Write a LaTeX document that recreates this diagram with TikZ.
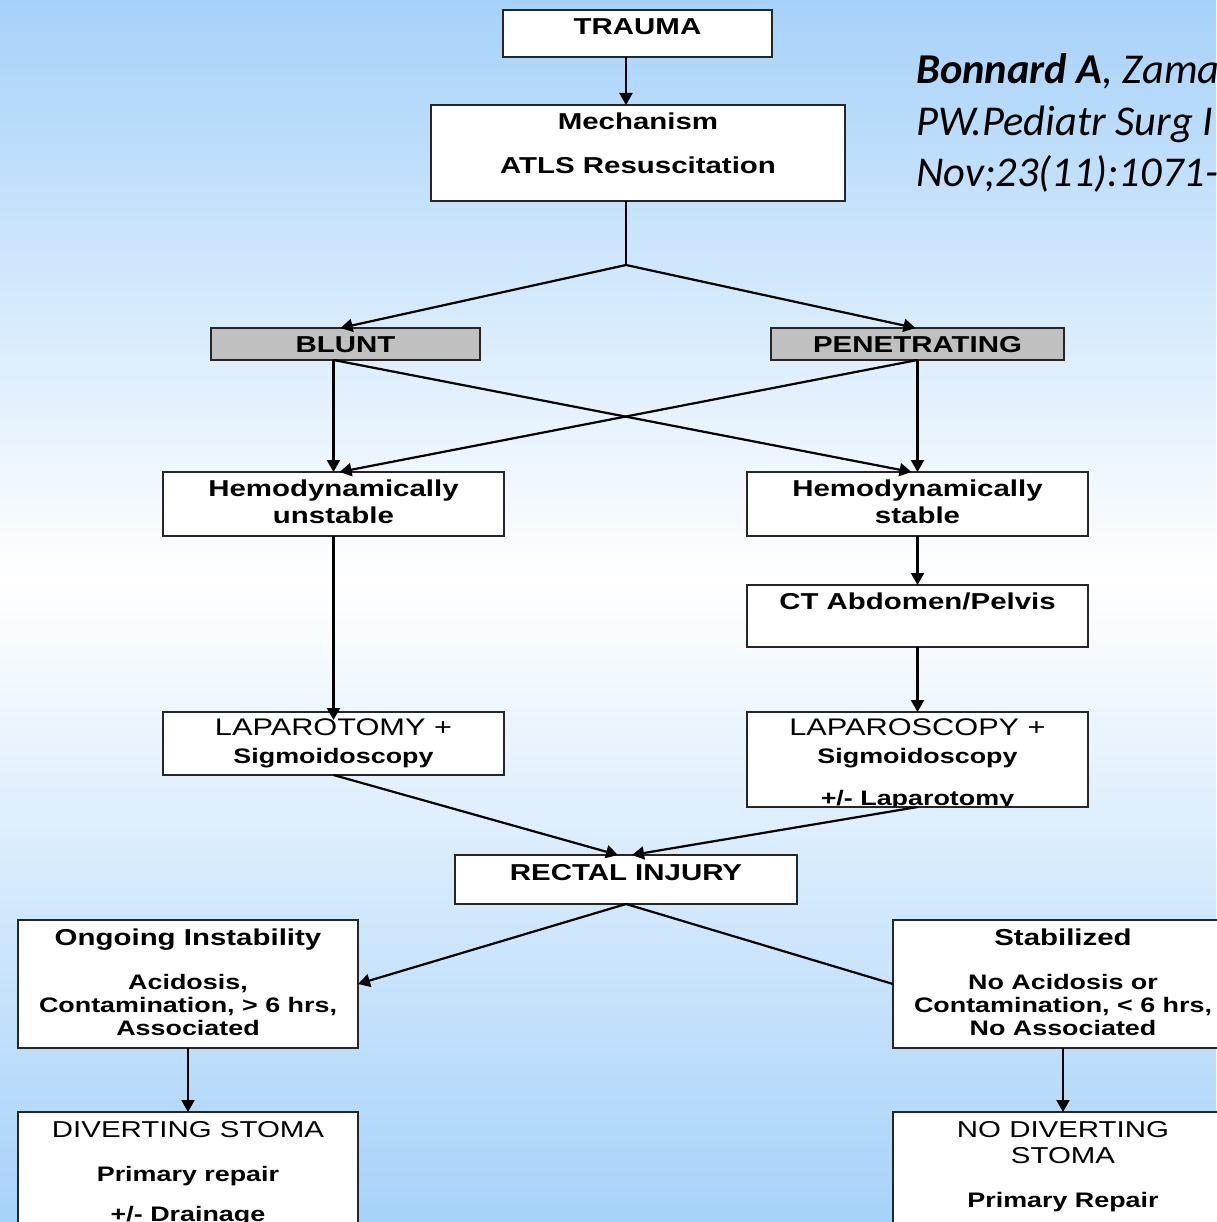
\documentclass[tikz,border=0pt]{standalone}
\usepackage{fontspec}
\setmainfont{Liberation Sans}[FakeStretch=1.28]
\newfontfamily\citefont{Carlito}
\usetikzlibrary{arrows.meta, positioning, calc}
\definecolor{skyblue}{HTML}{A6D2F9}
\definecolor{boxgray}{HTML}{C0C0C0}
\newcommand\detail{\fontsize{21}{23}\selectfont}
\newcommand\capsline{\mdseries\fontsize{24}{23}\selectfont}

\begin{document}
\begin{tikzpicture}[
x=1pt, y=-1pt,
box/.style={draw=black!85, line width=1.8pt, fill=white, inner sep=0pt, outer sep=0pt},
graybox/.style={box, fill=boxgray},
boxline/.style={draw=black!85, line width=1.8pt},
boxtext/.style={anchor=north, align=center, inner sep=0pt, font=\fontsize{23}{23}\selectfont\bfseries},
citetext/.style={anchor=base west, align=left, inner sep=0pt, font=\citefont\fontsize{42.5}{51.5}\selectfont\itshape},
arr/.style={line width=2.2pt, -{Triangle[length=12pt, width=13pt]}},
link/.style={line width=2.2pt}
]

%%%% BACKGROUND

\shade[top color=skyblue, bottom color=white] (0,0) rectangle (1216,580);
\shade[top color=white, bottom color=skyblue] (0,580) rectangle (1216,1222);
\useasboundingbox (0,0) rectangle (1216,1222);

%%%% TOP

\node[box, minimum width=269pt, minimum height=47pt] (trauma) at (637.5,33.5) {};
\path (trauma.north)++(0,8) node[boxtext]{TRAUMA};

\node[box, minimum width=414pt, minimum height=96pt] (mech) at (638,153) {};
\path (mech.north)++(0,8) node[boxtext]{Mechanism\\[21pt]ATLS Resuscitation};

\coordinate (fork) at (626,265);
\draw[arr] (trauma.south -| fork)--(mech.north -| fork);
\draw[link] (mech.south -| fork)--(fork);

%% BLUNT / PENETRATING
\node[graybox, minimum width=269pt, minimum height=32pt] (blunt) at (345.5,344) {};
\path (blunt.north)++(0,8) node[boxtext]{BLUNT};
\node[graybox, minimum width=293pt, minimum height=32pt] (pene) at (917.5,344) {};
\path (pene.north)++(0,8) node[boxtext]{PENETRATING};

\draw[arr] (fork)--([xshift=-5pt]blunt.north);
\draw[arr] (fork)--([xshift=-2pt]pene.north);

%% HEMODYNAMICS
\node[box, minimum width=341pt, minimum height=64pt] (unstable) at (333.5,504) {};
\path (unstable.north)++(0,8) node[boxtext]{Hemodynamically\\[4pt]unstable};
\node[box, minimum width=341pt, minimum height=64pt] (stable) at (917.5,504) {};
\path (stable.north)++(0,8) node[boxtext]{Hemodynamically\\[4pt]stable};

\draw[arr] (blunt.south -| unstable.north)--(unstable.north);
\draw[arr] (blunt.south -| unstable.north)--([xshift=-6pt]stable.north);
\draw[arr] (pene.south -| stable.north)--(stable.north);
\draw[arr] (pene.south -| stable.north)--([xshift=6pt]unstable.north);

%% CT
\node[box, minimum width=341pt, minimum height=62pt] (ct) at (917.5,616) {};
\path (ct.north)++(0,8) node[boxtext]{CT Abdomen/Pelvis};
\draw[arr] (stable.south)--(ct.north);

%% SURGERY
\node[box, minimum width=341pt, minimum height=63pt] (lap) at (333.5,743.5) {};
\path (lap.north)++(0,7) node[boxtext]{{\capsline LAPAROTOMY +}\\[5pt]{\detail Sigmoidoscopy}};

\node[box, minimum width=341pt, minimum height=95pt] (scopy) at (917.5,759.5) {};
\begin{scope}
\clip (scopy.north west) rectangle (scopy.south east);
\path (scopy.north)++(0,7) node[boxtext]{{\capsline LAPAROSCOPY +}\\[5pt]{\detail Sigmoidoscopy}\\[19pt]{\detail +/- Laparotomy}};
\end{scope}
\draw[boxline] (scopy.north west) rectangle (scopy.south east);

\draw[arr] (unstable.south)--([yshift=-8pt]lap.north);
\draw[arr] (ct.south)--(scopy.north);

%%%% RECTAL INJURY

\node[box, minimum width=342pt, minimum height=49pt] (rectal) at (626,879.5) {};
\path (rectal.north)++(0,9) node[boxtext]{RECTAL INJURY};

\draw[arr] (lap.south)--([xshift=-8pt]rectal.north);
\draw[arr] (scopy.south)--([xshift=6pt]rectal.north);

%% UNSTABLE BRANCH
\node[box, minimum width=340pt, minimum height=128pt] (ongoing) at (188,984) {};
\path (ongoing.north)++(0,9) node[boxtext]{Ongoing Instability\\[21pt]{\detail Acidosis,}\\{\detail Contamination, > 6 hrs,}\\{\detail Associated}};
\node[box, minimum width=340pt, minimum height=140pt] (divert) at (188,1182) {};
\path (divert.north)++(0,9) node[boxtext]{{\mdseries DIVERTING STOMA}\\[21pt]{\detail Primary repair}\\[17pt]{\detail +/- Drainage}};

\draw[arr] (rectal.south)--(ongoing.east);
\draw[arr] (ongoing.south)--(divert.north);

%% STABLE BRANCH
\node[box, minimum width=340pt, minimum height=128pt] (stab) at (1063,984) {};
\path (stab.north)++(0,9) node[boxtext]{Stabilized\\[21pt]{\detail No Acidosis or}\\{\detail Contamination, < 6 hrs,}\\{\detail No Associated}};
\node[box, minimum width=340pt, minimum height=140pt] (nodivert) at (1063,1182) {};
\path (nodivert.north)++(0,9) node[boxtext]{{\mdseries NO DIVERTING}\\[3pt]{\mdseries STOMA}\\[21pt]{\detail Primary Repair}};

\draw[link] (rectal.south)--(stab.west);
\draw[arr] (stab.south)--(nodivert.north);

%%%% REFERENCE

\path (916,187) node[citetext]{\textbf{Bonnard A}, Zama\\PW.Pediatr Surg I\\Nov;23(11):1071-};

\end{tikzpicture}
\end{document}
